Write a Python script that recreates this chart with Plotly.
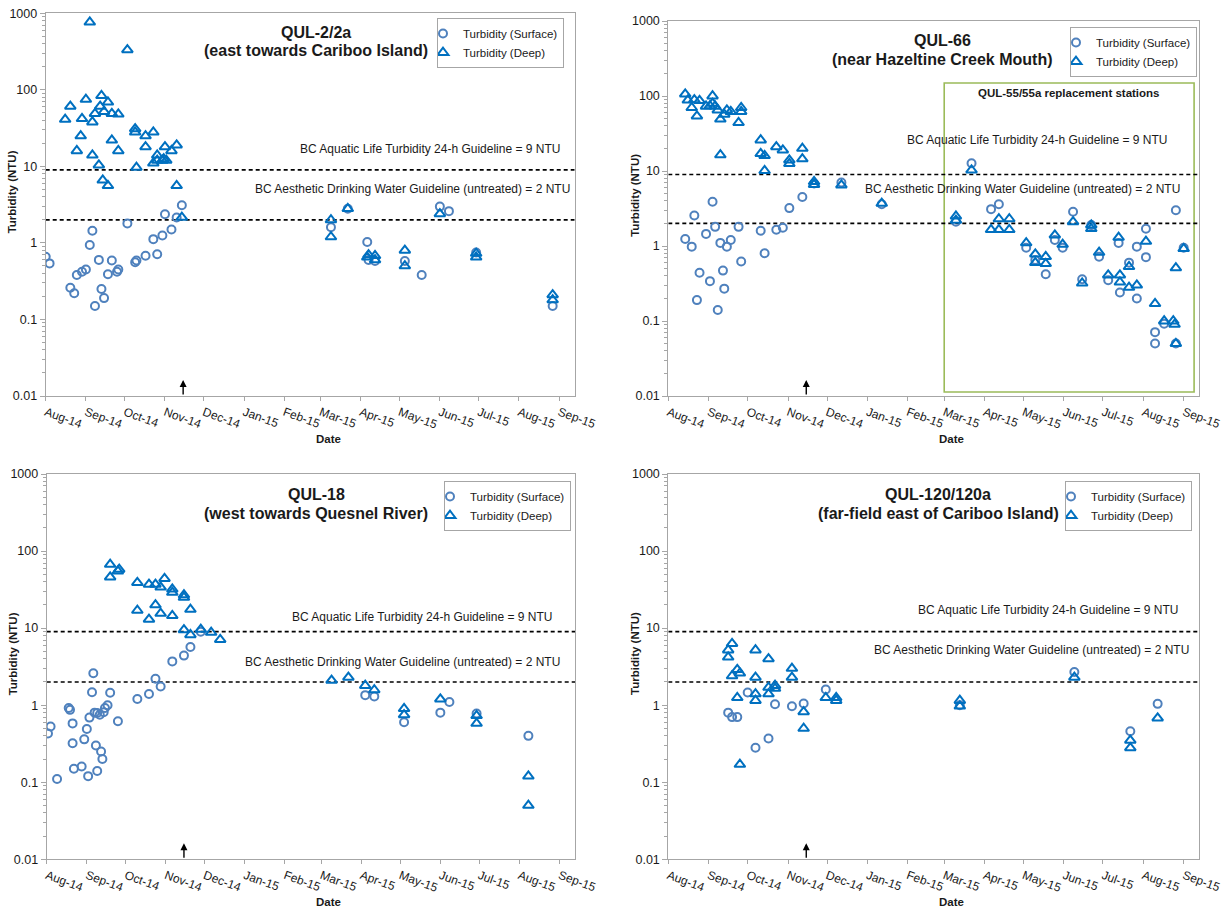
import plotly.graph_objects as go

# ---------------- data ----------------
# Panel 1: QUL-2/2a
p1_surf_dates = ["2014-08-01", "2014-08-04", "2014-08-20", "2014-08-23", "2014-08-25", "2014-08-29",
                 "2014-09-01", "2014-09-04", "2014-09-06", "2014-09-08", "2014-09-11", "2014-09-13",
                 "2014-09-15", "2014-09-18", "2014-09-21", "2014-09-25", "2014-09-26", "2014-10-03",
                 "2014-10-09", "2014-10-10", "2014-10-17", "2014-10-23", "2014-10-26", "2014-10-30",
                 "2014-11-01", "2014-11-06", "2014-11-10", "2014-11-14", "2015-03-09", "2015-03-22",
                 "2015-04-06", "2015-04-07", "2015-04-12", "2015-05-05", "2015-05-18", "2015-06-01",
                 "2015-06-08", "2015-06-29", "2015-08-27"]
p1_surf_vals = [0.66, 0.54, 0.26, 0.22, 0.38, 0.42, 0.45, 0.94, 1.44, 0.15, 0.60, 0.25, 0.19, 0.39,
                0.59, 0.42, 0.45, 1.80, 0.56, 0.59, 0.68, 1.12, 0.71, 1.25, 2.37, 1.50, 2.15, 3.10,
                1.60, 2.80, 1.03, 0.60, 0.58, 0.58, 0.38, 2.98, 2.60, 0.75, 0.15]
p1_deep_dates = ["2014-08-16", "2014-08-20", "2014-08-25", "2014-08-28", "2014-08-29", "2014-09-01",
                 "2014-09-04", "2014-09-06", "2014-09-06", "2014-09-08", "2014-09-11", "2014-09-12",
                 "2014-09-13", "2014-09-14", "2014-09-15", "2014-09-18", "2014-09-18", "2014-09-21",
                 "2014-09-21", "2014-09-26", "2014-09-26", "2014-10-03", "2014-10-09", "2014-10-09",
                 "2014-10-10", "2014-10-17", "2014-10-17", "2014-10-23", "2014-10-23", "2014-10-26",
                 "2014-10-26", "2014-10-30", "2014-10-31", "2014-11-01", "2014-11-02", "2014-11-06",
                 "2014-11-10", "2014-11-10", "2014-11-14", "2015-03-09", "2015-03-09", "2015-03-22",
                 "2015-04-06", "2015-04-07", "2015-04-12", "2015-04-12", "2015-05-05", "2015-05-05",
                 "2015-06-01", "2015-06-29", "2015-06-29", "2015-08-27", "2015-08-27"]
p1_deep_vals = [41, 61, 16, 25, 42, 75, 765, 38, 14, 49, 10.4, 61, 84, 6.6, 52, 69, 5.6, 22, 49, 16,
                48, 333, 31, 28, 9.7, 25, 18, 28, 11, 14, 12, 12, 12.5, 18, 12, 16, 19, 5.6, 2.16,
                2.0, 1.2, 2.8, 0.65, 0.70, 0.68, 0.60, 0.80, 0.50, 2.40, 0.65, 0.73, 0.21, 0.18]

# Panel 2: QUL-66
p2_surf_dates = ["2014-08-14", "2014-08-19", "2014-08-21", "2014-08-23", "2014-08-25", "2014-08-30",
                 "2014-09-02", "2014-09-04", "2014-09-06", "2014-09-08", "2014-09-10", "2014-09-12",
                 "2014-09-13", "2014-09-15", "2014-09-18", "2014-09-24", "2014-09-26", "2014-10-11",
                 "2014-10-14", "2014-10-23", "2014-10-28", "2014-11-02", "2014-11-12", "2014-11-21",
                 "2014-12-12", "2015-01-12", "2015-03-10", "2015-03-22", "2015-04-06", "2015-04-12",
                 "2015-05-03", "2015-05-10", "2015-05-18", "2015-05-25", "2015-05-31", "2015-06-08",
                 "2015-06-15", "2015-06-22", "2015-06-28", "2015-07-05", "2015-07-13", "2015-07-14",
                 "2015-07-21", "2015-07-27", "2015-07-27", "2015-08-03", "2015-08-03", "2015-08-10",
                 "2015-08-10", "2015-08-17", "2015-08-26", "2015-08-26", "2015-09-01"]
p2_surf_vals = [1.24, 0.98, 2.55, 0.19, 0.44, 1.45, 0.34, 3.9, 1.8, 0.14, 1.1, 0.47, 0.27, 0.98, 1.2,
                1.8, 0.62, 1.6, 0.8, 1.65, 1.75, 3.2, 4.5, 6.8, 7.0, 3.6, 2.1, 12.7, 3.1, 3.6, 0.95,
                0.65, 0.42, 1.2, 0.95, 2.86, 0.36, 1.9, 0.72, 0.35, 1.1, 0.24, 0.6, 0.98, 0.2, 1.7,
                0.71, 0.071, 0.05, 0.092, 3.0, 0.05, 0.95]
p2_deep_dates = ["2014-08-14", "2014-08-16", "2014-08-19", "2014-08-21", "2014-08-23", "2014-08-25",
                 "2014-08-30", "2014-09-02", "2014-09-04", "2014-09-04", "2014-09-06", "2014-09-08",
                 "2014-09-10", "2014-09-10", "2014-09-13", "2014-09-15", "2014-09-18", "2014-09-24",
                 "2014-09-26", "2014-09-26", "2014-10-11", "2014-10-11", "2014-10-14", "2014-10-14",
                 "2014-10-23", "2014-10-28", "2014-11-02", "2014-11-02", "2014-11-12", "2014-11-12",
                 "2014-11-21", "2014-11-21", "2014-12-12", "2015-01-12", "2015-03-10", "2015-03-10",
                 "2015-03-22", "2015-04-06", "2015-04-12", "2015-04-12", "2015-04-20", "2015-04-20",
                 "2015-05-03", "2015-05-10", "2015-05-10", "2015-05-18", "2015-05-18", "2015-05-25",
                 "2015-05-31", "2015-06-08", "2015-06-15", "2015-06-22", "2015-06-22", "2015-06-28",
                 "2015-07-05", "2015-07-13", "2015-07-14", "2015-07-14", "2015-07-21", "2015-07-21",
                 "2015-07-27", "2015-08-03", "2015-08-10", "2015-08-17", "2015-08-24", "2015-08-25",
                 "2015-08-26", "2015-08-26", "2015-09-01"]
p2_deep_vals = [106, 88, 70, 89, 54, 87, 73, 74, 100, 80, 73, 65, 49, 16.4, 57, 65, 62, 44, 70, 62,
                25.9, 17, 16, 10.1, 21, 19, 14, 12.5, 20, 14.5, 7.2, 6.6, 6.5, 3.7, 2.5, 2.2, 10.3,
                1.65, 2.3, 1.65, 2.3, 1.65, 1.1, 0.78, 0.6, 0.72, 0.58, 1.4, 1.05, 2.1, 0.32, 1.9,
                1.7, 0.82, 0.41, 1.3, 0.41, 0.33, 0.53, 0.28, 0.3, 1.15, 0.17, 0.1, 0.1, 0.09, 0.51,
                0.05, 0.92]

# Panel 3: QUL-18
p3_surf_dates = ["2014-08-02", "2014-08-04", "2014-08-09", "2014-08-18", "2014-08-19", "2014-08-21",
                 "2014-08-21", "2014-08-22", "2014-08-28", "2014-08-30", "2014-09-01", "2014-09-02",
                 "2014-09-03", "2014-09-05", "2014-09-06", "2014-09-07", "2014-09-08", "2014-09-09",
                 "2014-09-09", "2014-09-11", "2014-09-12", "2014-09-13", "2014-09-14", "2014-09-15",
                 "2014-09-17", "2014-09-19", "2014-09-25", "2014-10-10", "2014-10-19", "2014-10-24",
                 "2014-10-28", "2014-11-06", "2014-11-15", "2014-11-20", "2014-11-28", "2015-04-04",
                 "2015-04-11", "2015-05-04", "2015-06-01", "2015-06-08", "2015-06-29", "2015-08-08"]
p3_surf_vals = [0.43, 0.53, 0.11, 0.92, 0.87, 0.58, 0.32, 0.15, 0.16, 0.36, 0.49, 0.12, 0.69, 1.47,
                2.6, 0.80, 0.30, 0.14, 0.79, 0.75, 0.25, 0.20, 0.81, 0.92, 1.0, 1.45, 0.62, 1.2, 1.4,
                2.2, 1.75, 3.7, 4.4, 5.7, 9.0, 1.35, 1.3, 0.6, 0.8, 1.1, 0.78, 0.4]
p3_deep_dates = ["2014-09-19", "2014-09-19", "2014-09-25", "2014-09-26", "2014-10-10", "2014-10-10",
                 "2014-10-19", "2014-10-19", "2014-10-24", "2014-10-24", "2014-10-28", "2014-10-28",
                 "2014-10-31", "2014-11-06", "2014-11-06", "2014-11-06", "2014-11-15", "2014-11-15",
                 "2014-11-15", "2014-11-20", "2014-11-20", "2014-11-28", "2014-12-06", "2014-12-13",
                 "2015-03-09", "2015-03-22", "2015-04-04", "2015-04-11", "2015-05-04", "2015-05-04",
                 "2015-06-01", "2015-06-29", "2015-06-29", "2015-08-08", "2015-08-08"]
p3_deep_vals = [67, 46, 55, 58, 39, 17, 37, 13, 37, 20, 34, 15.5, 44, 32, 29, 14.5, 27, 25, 9.5, 8.2,
                17.5, 9.6, 8.8, 7.1, 2.1, 2.3, 1.8, 1.58, 0.9, 0.75, 1.2, 0.58, 0.73, 0.12, 0.05]

# Panel 4: QUL-120/120a
p4_surf_dates = ["2014-09-16", "2014-09-19", "2014-09-23", "2014-10-01", "2014-10-07", "2014-10-17",
                 "2014-10-22", "2014-11-04", "2014-11-13", "2014-11-30", "2015-03-13", "2015-06-09",
                 "2015-07-22", "2015-08-12"]
p4_surf_vals = [0.80, 0.70, 0.70, 1.46, 0.28, 0.37, 1.03, 0.97, 1.05, 1.6, 1.0, 2.7, 0.46, 1.04]
p4_deep_dates = ["2014-09-16", "2014-09-16", "2014-09-19", "2014-09-19", "2014-09-23", "2014-09-23",
                 "2014-09-25", "2014-09-25", "2014-10-07", "2014-10-07", "2014-10-07", "2014-10-07",
                 "2014-10-17", "2014-10-17", "2014-10-17", "2014-10-22", "2014-10-22", "2014-11-04",
                 "2014-11-04", "2014-11-13", "2014-11-13", "2014-11-30", "2014-12-08", "2014-12-08",
                 "2015-03-13", "2015-03-13", "2015-06-09", "2015-07-22", "2015-07-22", "2015-08-12"]
p4_deep_vals = [5.2, 4.2, 6.3, 2.4, 1.25, 2.9, 2.6, 0.17, 5.2, 2.3, 1.4, 1.15, 4.0, 1.7, 1.4, 1.8,
                1.65, 3.0, 2.3, 0.82, 0.5, 1.25, 1.25, 1.15, 1.15, 0.97, 2.3, 0.35, 0.28, 0.68]

panel_titles = [("QUL-2/2a", "(east towards Cariboo Island)"),
                ("QUL-66", "(near Hazeltine Creek Mouth)"),
                ("QUL-18", "(west towards Quesnel River)"),
                ("QUL-120/120a", "(far-field east of Cariboo Island)")]
series_names = ["Turbidity (Surface)", "Turbidity (Deep)"]
guide_values = [9, 2]
guide_labels = ["BC Aquatic Life Turbidity 24-h Guideline = 9 NTU",
                "BC Aesthetic Drinking Water Guideline (untreated) = 2 NTU"]
y_tick_vals = [0.01, 0.1, 1, 10, 100, 1000]
y_tick_text = ["0.01", "0.1", "1", "10", "100", "1000"]
x_range = ["2014-08-01", "2015-09-13"]
arrow_date = "2014-11-15"
box_label = "QUL-55/55a replacement stations"
box_dates = ["2015-03-01", "2015-09-09"]
box_label_date = "2015-06-05"

panels_data = [
    (p1_surf_dates, p1_surf_vals, p1_deep_dates, p1_deep_vals),
    (p2_surf_dates, p2_surf_vals, p2_deep_dates, p2_deep_vals),
    (p3_surf_dates, p3_surf_vals, p3_deep_dates, p3_deep_vals),
    (p4_surf_dates, p4_surf_vals, p4_deep_dates, p4_deep_vals),
]

# ---------------- layout geometry (pixels) ----------------
W, H = 1228, 911
FONT = "Liberation Sans, Arial, sans-serif"
AX = "#a6a6a6"
C_SURF = "#4f81bd"
C_DEEP = "#0070c0"
TXT = "#1a1a1a"

boxes = [dict(l=45.7, r=574.7, t=13.3, b=396),
         dict(l=668.3, r=1199.3, t=21, b=396),
         dict(l=46.7, r=575.0, t=474, b=859.3),
         dict(l=668.3, r=1199.3, t=474, b=859.3)]
title_pos = [(316, 32, 50.5), (942, 40.5, 59), (316, 494, 513), (938, 494, 513)]
legend_pos = [(564, 18), (1197, 27), (571, 481), (1192, 481)]
guide_label_pos = [((562, 149), (571.5, 189)), ((1169, 140), (1182, 189)),
                   ((554, 617), (562, 662)), ((1180, 609.5), (1191, 650))]

minor_vals = [k * 10 ** e for e in range(-2, 3) for k in range(2, 10)]


def fx(p):
    return p / W


def fy(p):
    return 1 - p / H


fig = go.Figure()
annotations = []
shapes = []
layout = {}

for i, (sd, sv, dd, dv) in enumerate(panels_data):
    n = "" if i == 0 else str(i + 1)
    xa, ya = "x" + n, "y" + n
    lg = "legend" + n
    bx = boxes[i]

    # guideline lines drawn across full x range
    for gv in guide_values:
        fig.add_trace(go.Scatter(x=x_range, y=[gv, gv], mode="lines", xaxis=xa, yaxis=ya,
                                 line=dict(color="black", width=1.6, dash="4px,3px"),
                                 showlegend=False, hoverinfo="skip"))

    fig.add_trace(go.Scatter(x=sd, y=sv, mode="markers", name=series_names[0], xaxis=xa, yaxis=ya,
                             legend=lg,
                             marker=dict(symbol="circle-open", size=8, color=C_SURF,
                                         line=dict(width=2, color=C_SURF))))
    fig.add_trace(go.Scatter(x=dd, y=dv, mode="markers", name=series_names[1], xaxis=xa, yaxis=ya,
                             legend=lg,
                             marker=dict(symbol="triangle-up-open", size=9.5, color=C_DEEP,
                                         line=dict(width=2, color=C_DEEP))))

    layout["xaxis" + n] = dict(domain=[fx(bx["l"]), fx(bx["r"])], anchor=ya, type="date",
                               range=x_range, tick0="2014-08-01", dtick="M1", tickformat="%b-%y",
                               tickangle=20, ticks="outside", ticklen=4, tickcolor=AX,
                               showline=True, linecolor=AX, linewidth=1, mirror=True,
                               showgrid=False, zeroline=False, automargin=False,
                               tickfont=dict(family=FONT, size=12, color=TXT))
    layout["yaxis" + n] = dict(domain=[fy(bx["b"]), fy(bx["t"])], anchor=xa, type="log",
                               range=[-2, 3], tickmode="array", tickvals=y_tick_vals,
                               ticktext=y_tick_text, ticks="outside", ticklen=5, tickcolor=AX,
                               minor=dict(tickmode="array", tickvals=minor_vals, ticks="outside",
                                          ticklen=3, tickcolor=AX, showgrid=False),
                               showline=True, linecolor=AX, linewidth=1, mirror=True,
                               showgrid=False, zeroline=False, automargin=False,
                               tickfont=dict(family=FONT, size=12.5, color=TXT))

    lx, ly = legend_pos[i]
    layout[lg] = dict(x=fx(lx), y=fy(ly), xanchor="right", yanchor="top",
                      bordercolor=AX, borderwidth=1, bgcolor="white",
                      font=dict(family=FONT, size=11.5, color=TXT),
                      itemwidth=30, indentation=-15, tracegroupgap=0)

    # titles
    tx, ty1, ty2 = title_pos[i]
    for txt, yy in zip(panel_titles[i], (ty1, ty2)):
        annotations.append(dict(text="<b>%s</b>" % txt, x=fx(tx), y=fy(yy), xref="paper",
                                yref="paper", xanchor="center", yanchor="middle", showarrow=False,
                                font=dict(family=FONT, size=16, color=TXT)))
    # guideline labels
    for lab, (gx, gy) in zip(guide_labels, guide_label_pos[i]):
        annotations.append(dict(text=lab, x=fx(gx), y=fy(gy), xref="paper", yref="paper",
                                xanchor="right", yanchor="middle", showarrow=False,
                                font=dict(family=FONT, size=12, color=TXT)))
    # axis titles
    cx = (bx["l"] + bx["r"]) / 2 + 18
    annotations.append(dict(text="<b>Date</b>", x=fx(cx), y=fy(bx["b"] + 43), xref="paper",
                            yref="paper", xanchor="center", yanchor="middle", showarrow=False,
                            font=dict(family=FONT, size=11.5, color=TXT)))
    cy = (bx["t"] + bx["b"]) / 2 - 13
    annotations.append(dict(text="<b>Turbidity (NTU)</b>", x=fx(bx["l"] - 34), y=fy(cy),
                            xref="paper", yref="paper", xanchor="center", yanchor="middle",
                            textangle=-90, showarrow=False,
                            font=dict(family=FONT, size=11.5, color=TXT)))
    # upward arrow at bottom
    hgt = bx["b"] - bx["t"]
    annotations.append(dict(text="", x=arrow_date, xref=xa, y=16 / hgt, yref=ya + " domain",
                            showarrow=True, ax=0, ay=16, axref="pixel", ayref="pixel",
                            arrowhead=2, arrowsize=1, arrowwidth=1.4, arrowcolor="black"))

# green replacement-station box on panel 2
bx2 = boxes[1]
hgt2 = bx2["b"] - bx2["t"]
shapes.append(dict(type="rect", xref="x2", yref="y2 domain", x0=box_dates[0], x1=box_dates[1],
                   y0=(bx2["b"] - 392) / hgt2, y1=(bx2["b"] - 83) / hgt2,
                   line=dict(color="#9bbb59", width=1.6), fillcolor="rgba(0,0,0,0)", layer="below"))
annotations.append(dict(text="<b>%s</b>" % box_label, x=box_label_date, xref="x2", y=fy(93),
                        yref="paper", xanchor="center", yanchor="middle", showarrow=False,
                        font=dict(family=FONT, size=11.5, color=TXT)))

fig.update_layout(width=W, height=H, margin=dict(l=0, r=0, t=0, b=0, autoexpand=False),
                  paper_bgcolor="white", plot_bgcolor="white",
                  font=dict(family=FONT, color=TXT),
                  annotations=annotations, shapes=shapes, **layout)

fig.write_html("out.html", config={"displayModeBar": False},
               post_script="document.body.style.margin='0';document.body.style.overflow='hidden';")
